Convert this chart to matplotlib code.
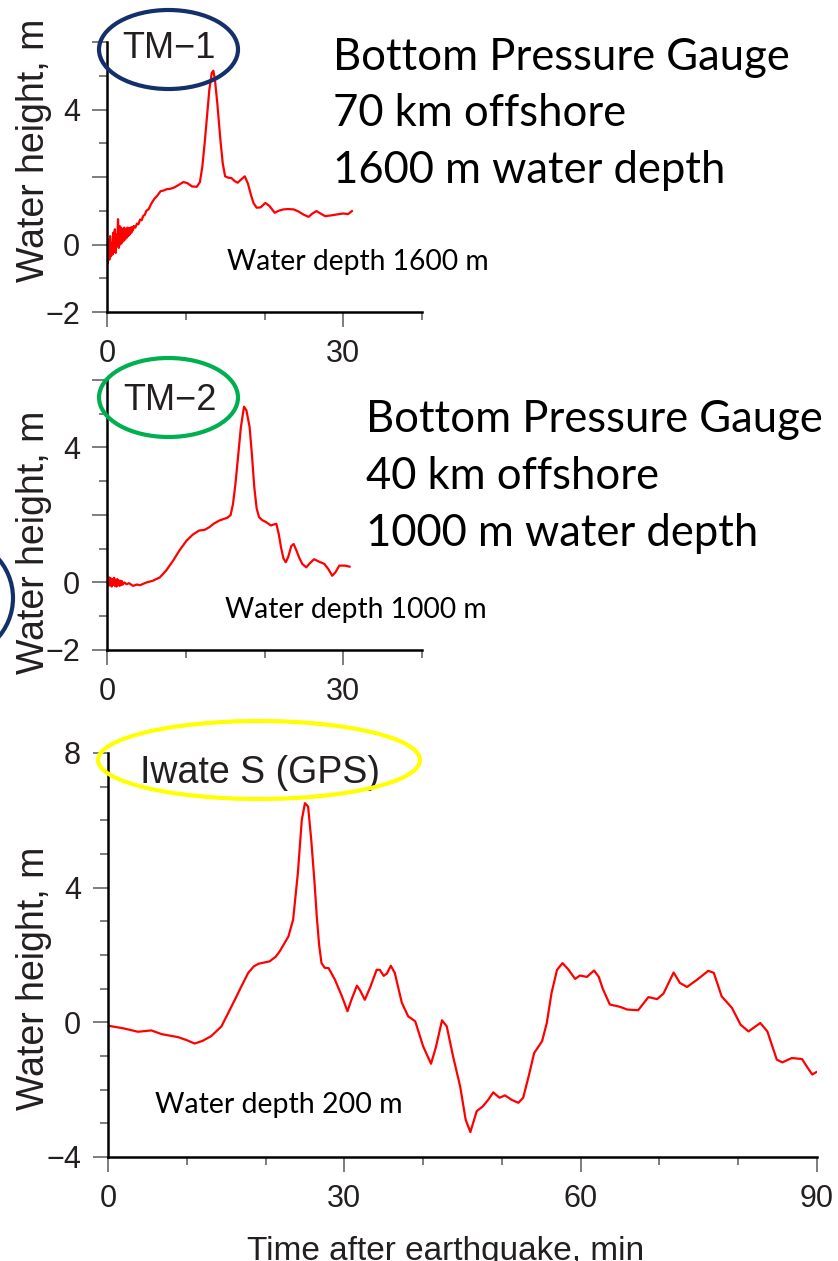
import matplotlib
matplotlib.use("Agg")
import matplotlib.pyplot as plt
from matplotlib.patches import Ellipse
from matplotlib.ticker import MultipleLocator, FixedLocator, FixedFormatter

# ---------------------------------------------------------------- data
# TM-1 bottom pressure gauge (70 km offshore, 1600 m depth)
tm1_time = [0.0, 0.1, 0.2, 0.3, 0.4, 0.5, 0.6, 0.7, 0.8, 0.9, 1.0, 1.1, 1.2,
            1.3, 1.4, 1.5, 1.6, 1.7, 1.8, 1.9, 2.0, 2.1, 2.2, 2.3, 2.4, 2.5,
            2.6, 2.7, 2.8, 2.9, 3.0, 3.1, 3.2, 3.3, 3.4, 3.6, 3.8, 4.0, 4.2,
            4.4, 4.6, 4.8, 5.0, 5.3, 5.6, 6.0, 6.4, 6.8, 7.2, 7.6, 8.0, 8.45,
            9.0, 9.7, 10.2, 10.8, 11.4, 11.8, 12.1, 12.4, 12.7, 13.0, 13.3,
            13.5, 13.7, 14.0, 14.4, 14.7, 15.0, 15.4, 15.8, 16.2, 16.6, 17.0,
            17.5, 17.9, 18.3, 18.6, 19.0, 19.5, 20.1, 20.6, 21.3, 21.8, 22.4,
            23.0, 23.7, 24.3, 25.0, 25.6, 26.1, 26.6, 27.1, 27.7, 28.4, 29.2,
            30.0, 30.6, 31.1]
tm1_height = [-0.10, -0.55, 0.15, -0.45, 0.25, -0.35, 0.05, -0.30, 0.35, -0.20,
              0.45, -0.25, 0.30, -0.05, 0.75, -0.10, 0.55, 0.00, 0.50, 0.05,
              0.45, 0.10, 0.50, 0.15, 0.45, 0.20, 0.50, 0.25, 0.48, 0.30, 0.50,
              0.35, 0.52, 0.42, 0.55, 0.50, 0.62, 0.60, 0.74, 0.72, 0.85, 0.88,
              1.00, 1.05, 1.20, 1.35, 1.45, 1.58, 1.60, 1.64, 1.65, 1.68, 1.75,
              1.85, 1.82, 1.72, 1.71, 1.85, 2.30, 3.00, 3.80, 4.60, 5.08, 5.15,
              4.90, 4.20, 3.10, 2.40, 2.02, 1.98, 1.97, 1.88, 1.83, 1.92, 2.02,
              1.80, 1.45, 1.23, 1.09, 1.10, 1.23, 1.15, 0.94, 1.00, 1.04, 1.05,
              1.04, 0.98, 0.88, 0.82, 0.92, 0.99, 0.92, 0.84, 0.86, 0.89, 0.92,
              0.90, 0.99]

# TM-2 bottom pressure gauge (40 km offshore, 1000 m depth)
tm2_time = [0.0, 0.1, 0.2, 0.3, 0.4, 0.5, 0.6, 0.7, 0.8, 0.9, 1.0, 1.1, 1.2,
            1.3, 1.4, 1.5, 1.6, 1.7, 1.8, 1.9, 2.0, 2.2, 2.5, 2.8, 3.3, 3.8,
            4.2, 5.0, 5.8, 6.7, 7.5, 8.4, 9.2, 10.1, 10.9, 11.7, 12.4, 13.0,
            13.6, 14.3, 15.3, 15.7, 16.0, 16.3, 16.6, 17.0, 17.4, 17.7, 18.1,
            18.4, 18.7, 19.0, 19.3, 19.7, 20.2, 20.8, 21.2, 21.5, 21.8, 22.1,
            22.4, 22.7, 23.0, 23.4, 23.7, 24.0, 24.4, 24.8, 25.3, 25.8, 26.3,
            26.9, 27.6, 28.1, 28.6, 29.0, 29.5, 30.2, 30.8]
tm2_height = [0.00, 0.12, -0.10, 0.15, -0.08, 0.12, -0.12, 0.10, -0.06, 0.14,
              -0.10, 0.08, -0.12, 0.10, -0.08, 0.06, -0.10, 0.05, -0.08, 0.04,
              -0.06, 0.00, -0.05, -0.02, -0.10, -0.06, -0.08, 0.00, 0.05, 0.15,
              0.35, 0.65, 0.95, 1.24, 1.42, 1.54, 1.56, 1.64, 1.75, 1.84, 1.92,
              2.00, 2.33, 2.90, 3.62, 4.60, 5.21, 5.10, 4.62, 3.80, 2.83, 2.20,
              1.94, 1.85, 1.79, 1.69, 1.72, 1.74, 1.45, 1.04, 0.72, 0.60, 0.75,
              1.08, 1.14, 0.98, 0.74, 0.55, 0.45, 0.58, 0.69, 0.62, 0.55, 0.40,
              0.20, 0.30, 0.50, 0.50, 0.47]

# Iwate South GPS buoy (200 m depth)
iw_time = [0.0, 2.0, 3.8, 5.5, 6.8, 8.9, 10.0, 11.0, 12.0, 13.1, 14.4, 15.2,
           16.1, 17.0, 17.8, 18.5, 19.1, 20.5, 21.3, 21.8, 22.9, 23.5, 24.1,
           24.6, 25.0, 25.4, 25.8, 26.2, 26.5, 26.8, 27.1, 27.5, 28.0, 28.8,
           29.7, 30.4, 30.9, 31.6, 32.0, 32.6, 33.3, 34.1, 34.5, 35.0, 35.4,
           35.9, 36.4, 37.3, 38.1, 39.0, 40.0, 41.0, 41.6, 42.4, 43.0, 43.8,
           44.7, 45.4, 46.0, 46.8, 47.6, 48.3, 48.9, 49.7, 50.4, 51.3, 52.1,
           52.7, 53.4, 54.1, 55.1, 55.7, 56.3, 57.0, 57.7, 58.4, 59.3, 59.9,
           60.8, 61.7, 62.3, 62.8, 63.7, 65.0, 65.9, 67.3, 68.6, 69.7, 70.5,
           71.8, 72.6, 73.5, 74.8, 76.2, 76.9, 77.9, 79.2, 80.3, 81.3, 82.8,
           83.7, 84.9, 85.6, 86.8, 88.1, 88.7, 89.4, 89.9]
iw_height = [-0.10, -0.18, -0.28, -0.24, -0.35, -0.44, -0.53, -0.63, -0.55,
             -0.41, -0.12, 0.25, 0.67, 1.10, 1.47, 1.66, 1.74, 1.81, 1.95, 2.11,
             2.55, 3.05, 4.43, 6.01, 6.51, 6.41, 5.42, 4.20, 3.15, 2.30, 1.76,
             1.62, 1.61, 1.27, 0.77, 0.33, 0.67, 1.09, 0.95, 0.67, 1.05, 1.56,
             1.56, 1.38, 1.45, 1.68, 1.47, 0.58, 0.18, 0.03, -0.71, -1.23, -0.76,
             0.06, -0.12, -1.01, -1.90, -2.89, -3.26, -2.64, -2.49, -2.29, -2.08,
             -2.24, -2.17, -2.31, -2.39, -2.24, -1.60, -0.91, -0.56, -0.02, 0.87,
             1.56, 1.76, 1.58, 1.29, 1.39, 1.35, 1.54, 1.35, 1.00, 0.53, 0.46,
             0.38, 0.36, 0.75, 0.69, 0.85, 1.48, 1.17, 1.05, 1.27, 1.53, 1.47,
             0.77, 0.43, -0.07, -0.27, -0.02, -0.27, -1.11, -1.19, -1.06, -1.09,
             -1.31, -1.55, -1.48]

small_ticks = [0, 30]
small_ylabels = ["\u22122", "0", "", "4", ""]
big_ylabels = ["\u22124", "0", "4", "8"]
big_xlabels = ["0", "30", "60", "90"]

# ---------------------------------------------------------------- figure
W, H = 838, 1261
fig = plt.figure(figsize=(W / 100, H / 100), dpi=100)


def fx(px):
    return px / W


def fy(py):
    return 1 - py / H


INK = "#231f20"
TICK = "#5a5a5a"
RED = "#ff0000"
SANS = ["Liberation Sans", "DejaVu Sans"]
CAL = ["Lato", "DejaVu Sans"]


def style(ax, xmaj, xlab, ymaj, ylab, yminor):
    for s in ("top", "right"):
        ax.spines[s].set_visible(False)
    for s in ("left", "bottom"):
        ax.spines[s].set_linewidth(1.8)
        ax.spines[s].set_color("black")
    ax.xaxis.set_major_locator(FixedLocator(xmaj))
    ax.xaxis.set_major_formatter(FixedFormatter(xlab))
    ax.xaxis.set_minor_locator(MultipleLocator(10))
    ax.yaxis.set_major_locator(FixedLocator(ymaj))
    ax.yaxis.set_major_formatter(FixedFormatter(ylab))
    ax.yaxis.set_minor_locator(MultipleLocator(yminor))
    ax.tick_params(which="major", length=10.5, width=1.1, color=TICK,
                   labelsize=22, labelcolor=INK, pad=9)
    ax.tick_params(which="minor", length=5.5, width=1.1, color=TICK)
    for lab in ax.get_xticklabels() + ax.get_yticklabels():
        lab.set_family(SANS)


# panel 1: TM-1
ax1 = fig.add_axes([fx(107), fy(312), 315 / W, 270 / H])
ax1.plot(tm1_time, tm1_height, color=RED, lw=1.6, solid_joinstyle="round")
ax1.set_xlim(0, 40)
ax1.set_ylim(-2, 6)
style(ax1, small_ticks, ["0", "30"], [-2, 0, 2, 4, 6], small_ylabels, 1)

# panel 2: TM-2
ax2 = fig.add_axes([fx(107), fy(650), 315 / W, 270 / H])
ax2.plot(tm2_time, tm2_height, color=RED, lw=1.6, solid_joinstyle="round")
ax2.set_xlim(0, 40)
ax2.set_ylim(-2, 6)
style(ax2, small_ticks, ["0", "30"], [-2, 0, 2, 4, 6], small_ylabels, 1)

# panel 3: Iwate S (GPS)
ax3 = fig.add_axes([fx(108), fy(1157), 709 / W, 404 / H])
ax3.plot(iw_time, iw_height, color=RED, lw=1.6, solid_joinstyle="round")
ax3.set_xlim(0, 90)
ax3.set_ylim(-4, 8)
style(ax3, [0, 30, 60, 90], big_xlabels, [-4, 0, 4, 8], big_ylabels, 1)

# station names
fig.text(fx(122), fy(58), "TM\u22121", fontsize=26, color=INK, family=SANS,
         va="baseline", ha="left")
fig.text(fx(123), fy(410), "TM\u22122", fontsize=26, color=INK, family=SANS,
         va="baseline", ha="left")
fig.text(fx(140), fy(783), "Iwate S (GPS)", fontsize=27, color=INK, family=SANS,
         va="baseline", ha="left")

# axis titles
for cy in (150, 542, 978):
    fig.text(fx(34), fy(cy), "Water height, m", fontsize=27, color=INK,
             family=SANS, rotation=90, ha="center", va="center")
fig.text(fx(446), fy(1260), "Time after earthquake, min", fontsize=24,
         color=INK, family=SANS, ha="center", va="baseline")

# water depth notes
fig.text(fx(227), fy(270), "Water depth 1600 m", fontsize=20.3, color="black",
         family=CAL, va="baseline")
fig.text(fx(225), fy(618), "Water depth 1000 m", fontsize=20.3, color="black",
         family=CAL, va="baseline")
fig.text(fx(155), fy(1113), "Water depth 200 m", fontsize=20.5, color="black",
         family=CAL, va="baseline")

# gauge descriptions
for i, line in enumerate(["Bottom Pressure Gauge", "70 km offshore",
                          "1600 m water depth"]):
    fig.text(fx(333), fy(70 + 56.5 * i), line, fontsize=31.4, color="black",
             family=CAL, va="baseline")
for i, line in enumerate(["Bottom Pressure Gauge", "40 km offshore",
                          "1000 m water depth"]):
    fig.text(fx(366), fy(432 + 57 * i), line, fontsize=31.4, color="black",
             family=CAL, va="baseline")

# highlight rings
rings = [
    ((168.5, 49.5), 139, 79, "#13306b"),
    ((168.5, 397.5), 139, 79, "#00b050"),
    ((259, 760), 322, 78, "#ffff00"),
    ((-47, 598), 120, 120, "#13306b"),
]
for (cx, cy), w, h, col in rings:
    fig.add_artist(Ellipse((fx(cx), fy(cy)), w / W, h / H,
                           transform=fig.transFigure, fill=False,
                           edgecolor=col, linewidth=3.0, zorder=5))

fig.savefig("out.png", dpi=100)
